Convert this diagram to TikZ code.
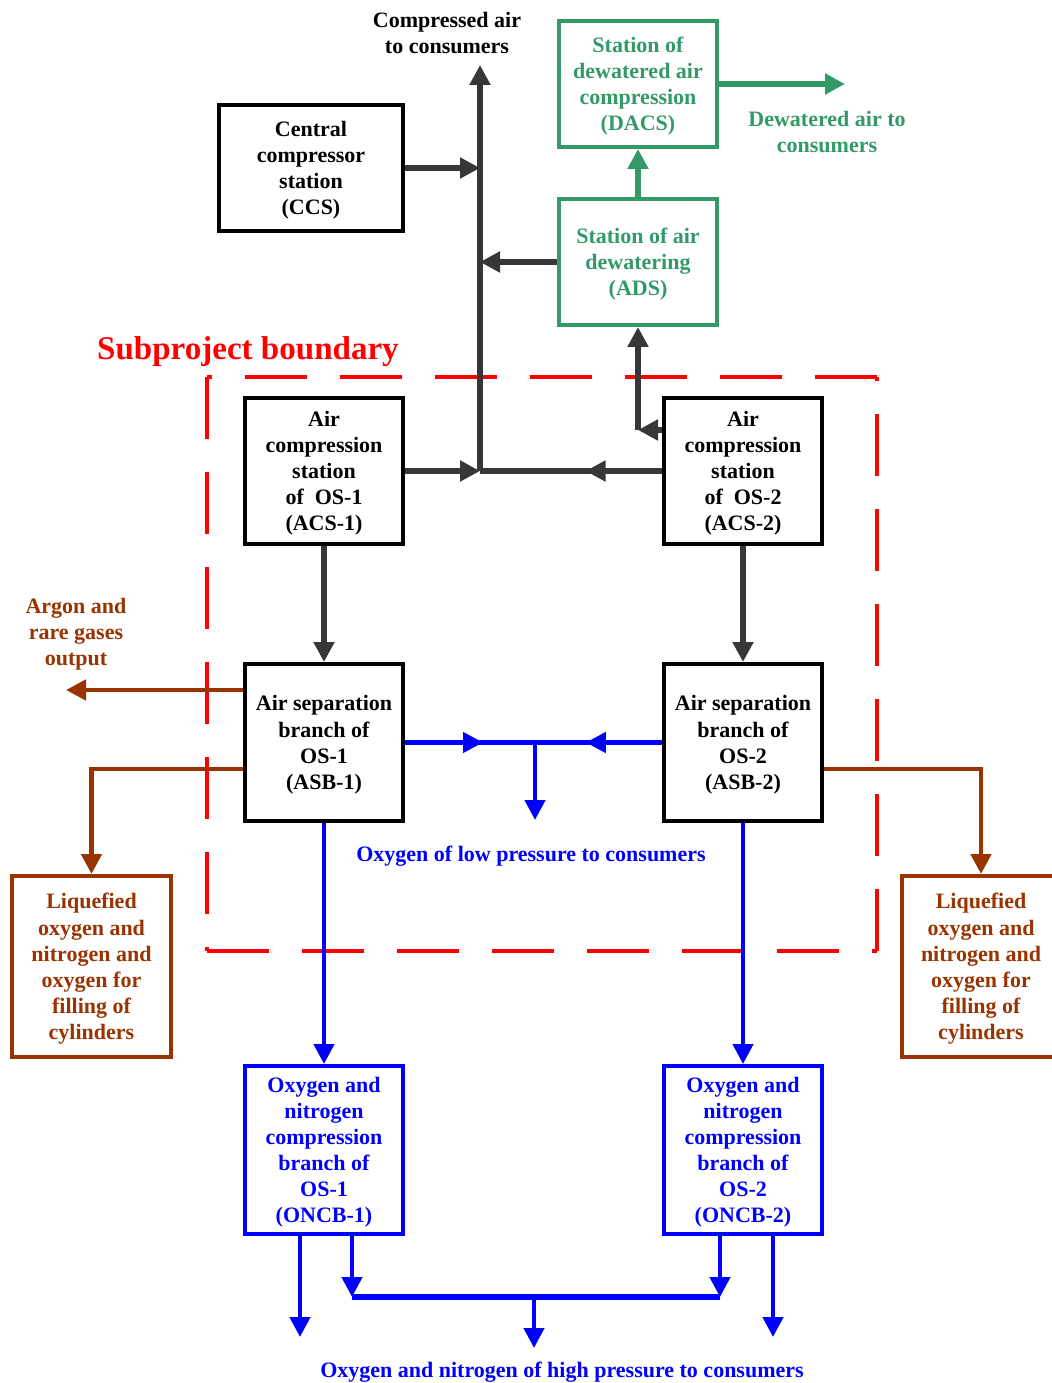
\documentclass[tikz,border=0pt]{standalone}
\usepackage{fontspec}
\setmainfont{Liberation Serif}
\usetikzlibrary{arrows.meta,decorations.markings}
\definecolor{dark}{RGB}{55,55,55}
\definecolor{grn}{RGB}{51,153,102}
\definecolor{brn}{RGB}{153,51,0}
\definecolor{blu}{RGB}{0,0,255}
\definecolor{rd}{RGB}{255,0,0}
\newcommand{\mytxt}{\fontsize{16.5}{19.6}\selectfont\bfseries}
\tikzset{
  box/.style={draw, line width=3pt, inner sep=0pt, align=center, font=\mytxt, text depth=-1.5pt},
  lbl/.style={inner sep=0pt, align=center, font=\mytxt},
  tip/.style={-{Triangle[length=15pt,width=15pt]}},
  darr/.style={draw=dark, line width=3.8pt, tip},
  dline/.style={draw=dark, line width=3.8pt},
  garr/.style={draw=grn, line width=3.8pt, tip},
  barr/.style={draw=blu, line width=3.3pt, tip},
  bline/.style={draw=blu, line width=3.3pt},
  brarr/.style={draw=brn, line width=3.5pt, line join=miter, tip},
  midarr/.style={postaction={decorate}, decoration={markings, mark=at position #1 with {\arrow{Triangle[length=15pt,width=15pt]}}}},
  bnd/.style={draw=rd, line width=2.6pt, dash pattern=on 46.5pt off 24.75pt}
}
\begin{document}
\begin{tikzpicture}[x=0.75pt,y=-0.75pt]
\useasboundingbox (0,0) rectangle (1051,1383);
% boxes
\node[box, minimum width=138pt, minimum height=94.5pt] (ccs) at (311,168) {Central\\compressor\\station\\(CCS)};
\node[box, draw=grn, text=grn, minimum width=118.5pt, minimum height=94.5pt] (dacs) at (638,84) {Station of\\dewatered air\\compression\\(DACS)};
\node[box, draw=grn, text=grn, minimum width=118.5pt, minimum height=94.5pt] (ads) at (638,262) {Station of air\\dewatering\\(ADS)};
\node[box, minimum width=118.5pt, minimum height=109.5pt] (acs1) at (324,471) {Air\\compression\\station\\of~ OS-1\\(ACS-1)};
\node[box, minimum width=118.5pt, minimum height=109.5pt] (acs2) at (743,471) {Air\\compression\\station\\of~ OS-2\\(ACS-2)};
\node[box, minimum width=118.5pt, minimum height=117.75pt] (asb1) at (324,742.5) {Air separation\\branch of\\OS-1\\(ASB-1)};
\node[box, minimum width=118.5pt, minimum height=117.75pt] (asb2) at (743,742.5) {Air separation\\branch of\\OS-2\\(ASB-2)};
\node[box, draw=blu, text=blu, minimum width=118.5pt, minimum height=126pt] (oncb1) at (324,1150) {Oxygen and\\nitrogen\\compression\\branch of\\OS-1\\(ONCB-1)};
\node[box, draw=blu, text=blu, minimum width=118.5pt, minimum height=126pt] (oncb2) at (743,1150) {Oxygen and\\nitrogen\\compression\\branch of\\OS-2\\(ONCB-2)};
\node[box, draw=brn, text=brn, minimum width=119.25pt, minimum height=135.75pt] (liq1) at (91.5,966.5) {Liquefied\\oxygen and\\nitrogen and\\oxygen for\\filling of\\cylinders};
\node[box, draw=brn, text=brn, minimum width=119.25pt, minimum height=135.75pt] (liq2) at (981,966.5) {Liquefied\\oxygen and\\nitrogen and\\oxygen for\\filling of\\cylinders};
% labels
\node[lbl] (lca) at (447,33) {Compressed air\\to consumers};
\node[lbl, text=grn] (lda) at (827,132) {Dewatered air to\\consumers};
\node[lbl, text=rd, font=\fontsize{24.8}{28}\selectfont\bfseries] (lsb) at (248,352) {Subproject boundary};
\node[lbl, text=brn] (lar) at (76,634) {Argon and\\rare gases\\output};
\node[lbl, text=blu] (llp) at (531,856) {Oxygen of low pressure to consumers};
\node[lbl, text=blu] (lhp) at (562,1372) {Oxygen and nitrogen of high pressure to consumers};
% boundary
\draw[bnd] (207,951) -- (877,951);
\draw[bnd] (877,951) -- (877,377);
\draw[bnd] (877,377) -- (207,377);
\draw[bnd] (207,377) -- (207,951);
% coordinates
\coordinate (j1) at (480,471);
\coordinate (top) at (480,65);
\coordinate (c2) at (638,430);
\coordinate (dout) at (845,84);
\coordinate (jb) at (535,742.5);
\coordinate (lpo) at (535,820);
\coordinate (ar) at (66,690);
\coordinate (lq1) at (91.5,769);
\coordinate (lq2) at (981,769);
\coordinate (b1) at (300,1337);
\coordinate (b2) at (352,1297);
\coordinate (b3) at (720,1297);
\coordinate (b4) at (773,1337);
\coordinate (bm) at (534,1297);
\coordinate (bmt) at (534,1348);
% dark connectors
\draw[darr] (j1) -- (top);
\draw[darr] (ccs.east) -- (ccs.east -| j1);
\draw[darr] (ads.west) -- (ads.west -| j1);
\draw[darr] (acs1.east) -- (j1);
\draw[dline, midarr=0.42] (acs2.west) -- (j1);
\draw[darr] (acs2.west |- c2) -- (c2);
\draw[darr] (c2) -- (ads.south);
\draw[darr] (acs1.south) -- (asb1.north);
\draw[darr] (acs2.south) -- (asb2.north);
% green
\draw[garr] (ads.north) -- (dacs.south);
\draw[garr] (dacs.east) -- (dout);
% blue
\draw[bline, midarr=0.6] (asb1.east) -- (jb);
\draw[bline, midarr=0.6] (asb2.west) -- (jb);
\draw[barr] (jb) -- (lpo);
\draw[barr] (asb1.south) -- (oncb1.north);
\draw[barr] (asb2.south) -- (oncb2.north);
\draw[barr] (oncb1.south -| b1) -- (b1);
\draw[barr] (oncb1.south -| b2) -- (b2);
\draw[barr] (oncb2.south -| b3) -- (b3);
\draw[barr] (oncb2.south -| b4) -- (b4);
\draw[bline, line width=4.5pt] (b2) -- (b3);
\draw[barr] (bm) -- (bmt);
% brown
\draw[brarr] (asb1.west |- ar) -- (ar);
\draw[brarr] (asb1.west |- lq1) -| (liq1.north);
\draw[brarr] (asb2.east |- lq2) -| (liq2.north);
\end{tikzpicture}
\end{document}
